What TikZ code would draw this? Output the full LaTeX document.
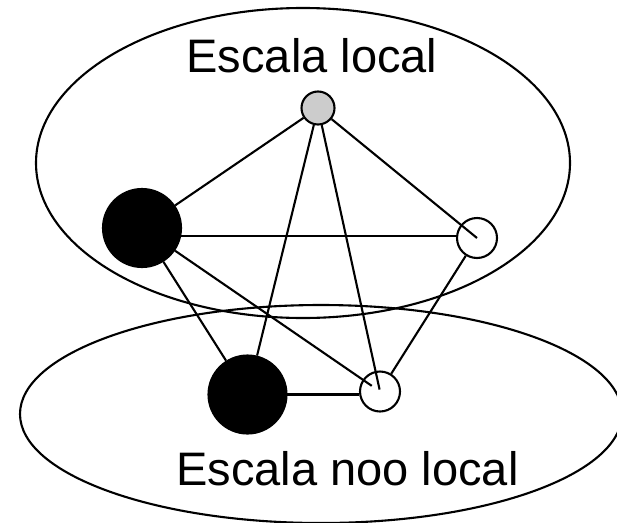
\documentclass[tikz,border=0pt]{standalone}
\usepackage{fontspec}
\setmainfont{Liberation Sans}
\begin{document}
\begin{tikzpicture}[x=1pt,y=-1pt,line width=2.1pt,
  blacknode/.style={circle,draw,fill=black,minimum size=78pt,inner sep=0pt},
  greynode/.style={circle,draw,fill=black!20,minimum size=33pt,inner sep=0pt},
  whitenode/.style={circle,draw,minimum size=40pt,inner sep=0pt},
  region/.style={draw,line width=2.1pt},
  lbl/.style={font=\fontsize{47}{50}\selectfont,inner sep=0pt,anchor=base},
  edge/.style={line width=2.1pt}]
\useasboundingbox (0,0) rectangle (617,522);
\clip (0,0) rectangle (617,522);
\draw[region] (303,163) ellipse [x radius=267, y radius=155];
\draw[region] (321,414) ellipse [x radius=301, y radius=109];
\node[lbl] (top) at (312,72) {Escala local};
\node[lbl] (bot) at (347.5,485) {Escala noo local};
\node[greynode] (g) at (318,108) {};
\node[blacknode] (lb) at (142,228) {};
\node[whitenode] (wr) at (477,238) {};
\node[blacknode] (bb) at (247.5,394.5) {};
\node[whitenode] (wb) at (380,391.5) {};
\draw[edge] (g) -- (lb);
\draw[edge] (g) -- (wr.center);
\draw[edge] (g) -- (bb);
\draw[edge,shorten >=2pt] (g) -- (wb.center);
\draw[edge] (lb.center |- 0,236) -- (wr.west |- 0,236);
\draw[edge] (lb) -- (bb);
\draw[edge,shorten >=10pt] (lb) -- (wb.center);
\draw[edge] (wr) -- (wb);
\draw[edge] (bb.center) -- (bb.center -| wb.west);
\end{tikzpicture}
\end{document}
